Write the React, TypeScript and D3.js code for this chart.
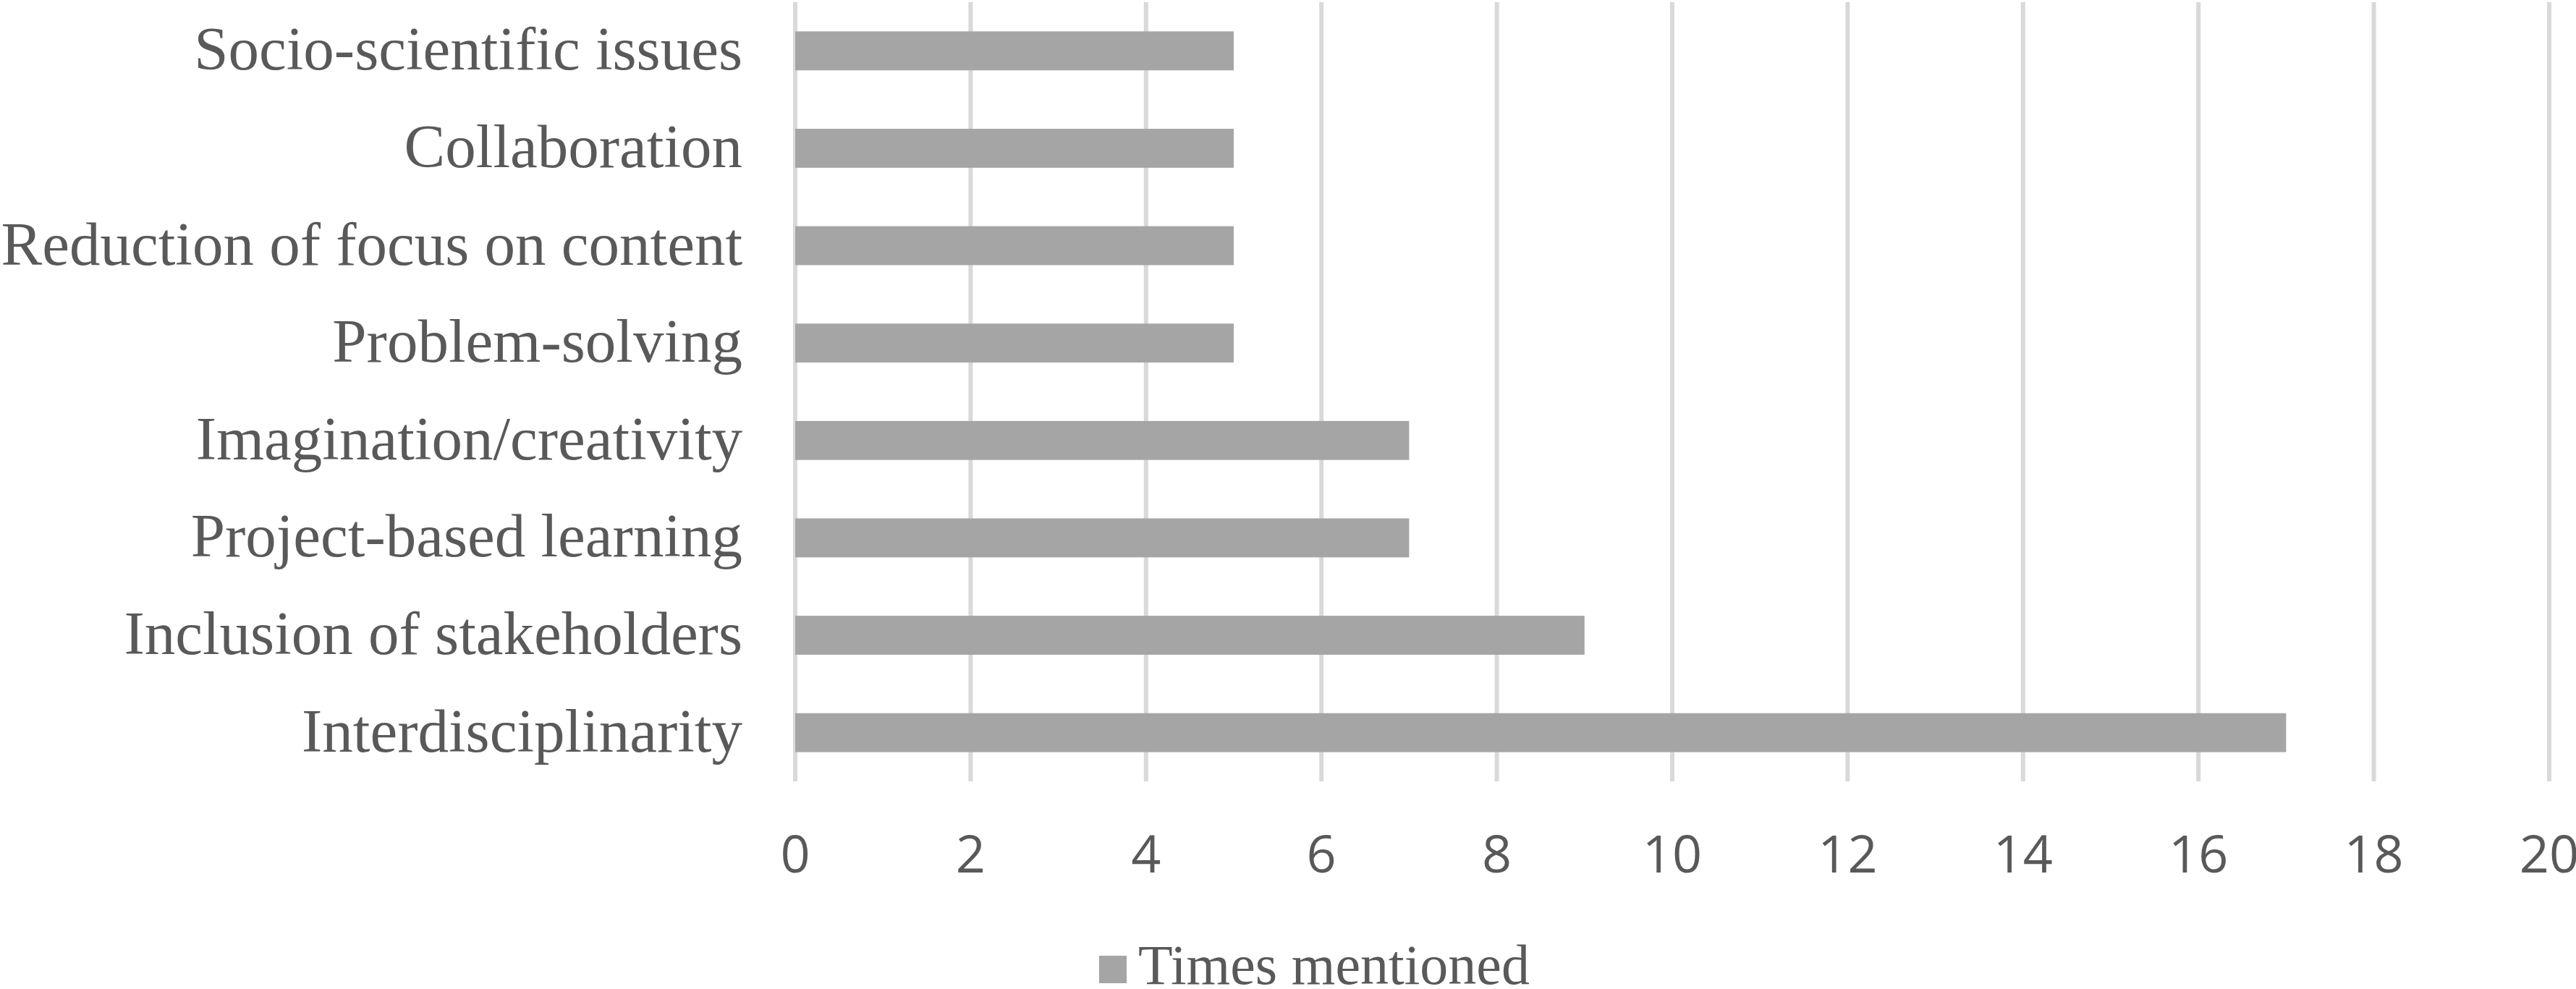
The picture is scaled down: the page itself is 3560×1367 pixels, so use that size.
import React from 'react';
import * as d3 from 'd3';

const categories = [
  'Socio-scientific issues',
  'Collaboration',
  'Reduction of focus on content',
  'Problem-solving',
  'Imagination/creativity',
  'Project-based learning',
  'Inclusion of stakeholders',
  'Interdisciplinarity',
];
const timesMentioned = [5, 5, 5, 5, 7, 7, 9, 17];
const xTicks = [0, 2, 4, 6, 8, 10, 12, 14, 16, 18, 20];
const seriesName = 'Times mentioned';

const width = 3560;
const height = 1367;
const plot = { left: 1099, right: 3523, top: 3, bottom: 1080 };

const barColor = '#A5A5A5';
const gridColor = '#D9D9D9';
const textColor = '#595959';

const App = () => {
  const xScale = d3.scaleLinear().domain([0, 20]).range([plot.left, plot.right]);
  const yScale = d3
    .scaleBand()
    .domain(categories)
    .range([plot.top, plot.bottom])
    .paddingInner(0.6)
    .paddingOuter(0.3);

  return (
    <svg
      width={width}
      height={height}
      style={{ position: 'absolute', left: 0, top: 0, background: '#fff' }}
    >
      <g className="grid">
        {xTicks.map((t) => (
          <line
            key={t}
            x1={xScale(t)}
            x2={xScale(t)}
            y1={plot.top}
            y2={plot.bottom}
            stroke={gridColor}
            strokeWidth={6}
          />
        ))}
      </g>
      <g className="bars">
        {categories.map((c, i) => (
          <rect
            key={c}
            x={xScale(0)}
            y={yScale(c)}
            width={xScale(timesMentioned[i]) - xScale(0)}
            height={yScale.bandwidth()}
            fill={barColor}
          />
        ))}
      </g>
      <g className="y-labels" fontFamily="'Liberation Serif', 'Times New Roman', serif" fontSize={85} fill={textColor}>
        {categories.map((c) => (
          <text
            key={c}
            x={plot.left - 73}
            y={(yScale(c) as number) + yScale.bandwidth() / 2 + 26}
            textAnchor="end"
          >
            {c}
          </text>
        ))}
      </g>
      <g className="x-labels" fontFamily="'Open Sans', sans-serif" fontSize={72} fill={textColor}>
        {xTicks.map((t) => (
          <text key={t} x={xScale(t)} y={1206} textAnchor="middle">
            {t}
          </text>
        ))}
      </g>
      <g className="legend">
        <rect x={1519} y={1321} width={38} height={38} fill={barColor} />
        <text
          x={1573}
          y={1360}
          fontFamily="'Liberation Serif', 'Times New Roman', serif"
          fontSize={78}
          fill={textColor}
        >
          {seriesName}
        </text>
      </g>
    </svg>
  );
};

export default App;
